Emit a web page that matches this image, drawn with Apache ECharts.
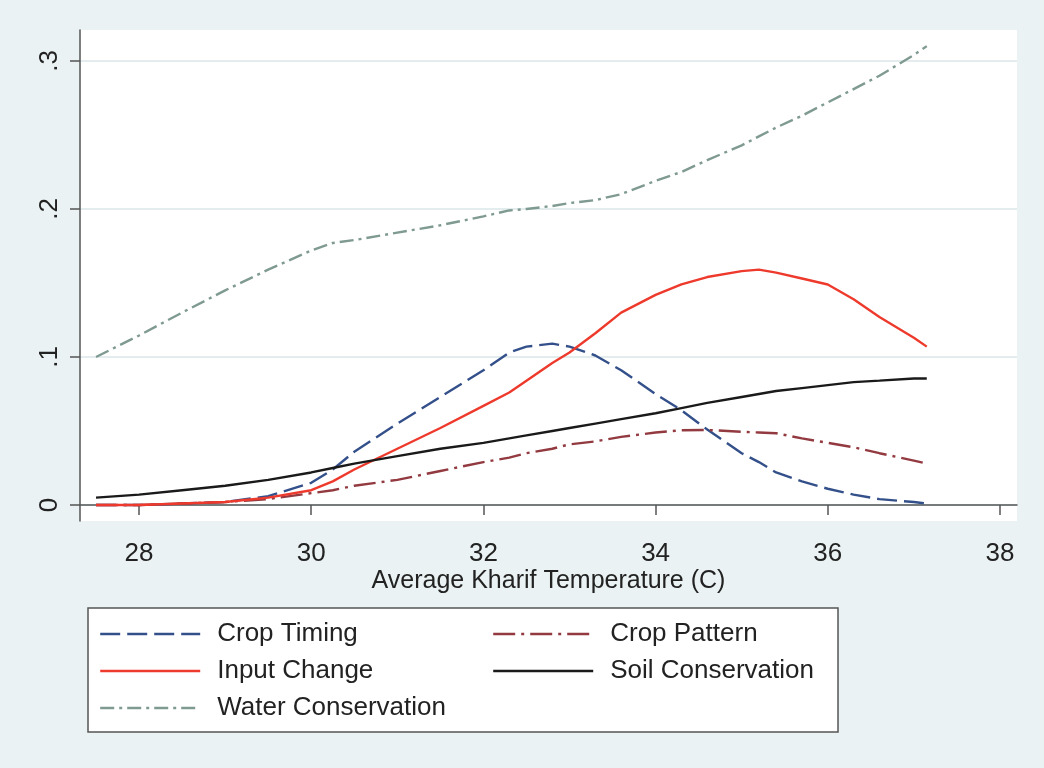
<!DOCTYPE html>
<html>
<head>
<meta charset="utf-8">
<script src="https://cdn.jsdelivr.net/npm/echarts@6/dist/echarts.min.js"></script>
<style>
html,body{margin:0;padding:0;background:#eaf2f3;}
#chart{width:1044px;height:768px;}
</style>
</head>
<body>
<div id="chart"></div>
<script>
// Average Kharif Temperature (C)
var temps = [27.5, 28, 28.5, 29, 29.5, 30, 30.25, 30.5, 31, 31.5, 32, 32.3, 32.5, 32.8, 33, 33.3, 33.6, 34, 34.3, 34.6, 35, 35.2, 35.4, 35.7, 36, 36.3, 36.6, 37, 37.15];
var cropTiming = [0.000, 0.000, 0.001, 0.002, 0.006, 0.015, 0.024, 0.036, 0.055, 0.073, 0.091, 0.103, 0.107, 0.109, 0.107, 0.101, 0.091, 0.075, 0.064, 0.051, 0.035, 0.029, 0.022, 0.016, 0.011, 0.007, 0.004, 0.002, 0.001];
var cropPattern = [0.000, 0.000, 0.001, 0.002, 0.004, 0.008, 0.010, 0.013, 0.017, 0.023, 0.029, 0.032, 0.035, 0.038, 0.041, 0.043, 0.046, 0.049, 0.0505, 0.0507, 0.0495, 0.049, 0.0485, 0.045, 0.042, 0.039, 0.035, 0.030, 0.028];
var inputChange = [0.000, 0.000, 0.001, 0.002, 0.005, 0.010, 0.016, 0.024, 0.038, 0.052, 0.067, 0.076, 0.084, 0.096, 0.103, 0.116, 0.130, 0.142, 0.149, 0.154, 0.158, 0.159, 0.157, 0.153, 0.149, 0.139, 0.127, 0.113, 0.107];
var soilConservation = [0.005, 0.007, 0.010, 0.013, 0.017, 0.022, 0.025, 0.028, 0.033, 0.038, 0.042, 0.045, 0.047, 0.050, 0.052, 0.055, 0.058, 0.062, 0.0655, 0.069, 0.073, 0.075, 0.077, 0.079, 0.081, 0.083, 0.084, 0.0855, 0.0855];
var waterConservation = [0.100, 0.1145, 0.130, 0.145, 0.159, 0.172, 0.177, 0.179, 0.184, 0.189, 0.195, 0.199, 0.200, 0.202, 0.204, 0.206, 0.210, 0.219, 0.225, 0.233, 0.243, 0.249, 0.255, 0.263, 0.272, 0.281, 0.290, 0.304, 0.310];

var xTicks = [28, 30, 32, 34, 36, 38];
var yTicks = [0, 0.1, 0.2, 0.3];
var yTickLabels = ['0', '.1', '.2', '.3'];

function pairs(ys) { return temps.map(function (t, i) { return [t, ys[i]]; }); }

var FONT = '"Liberation Sans", Arial, sans-serif';
var chart = echarts.init(document.getElementById('chart'), null, {renderer: 'canvas'});

function mk(name, data, color, type) {
  return {
    name: name, type: 'line', data: pairs(data), showSymbol: false, symbol: 'none',
    smooth: false, animation: false,
    lineStyle: {color: color, width: 2.4, type: type},
    itemStyle: {color: color},
    emphasis: {disabled: true}
  };
}

var legendCommon = {
  orient: 'vertical', itemWidth: 100, itemHeight: 14, itemGap: 7,
  textStyle: {fontFamily: FONT, fontSize: 26, color: '#222', lineHeight: 30, padding: [0, 0, 0, 12]},
  itemStyle: {opacity: 0},
  lineStyle: {width: 2.4},
  selectedMode: false
};

chart.setOption({
  backgroundColor: '#eaf2f3',
  animation: false,
  graphic: [
    {type: 'rect', z: -1, shape: {x: 80, y: 30, width: 937, height: 491}, style: {fill: '#ffffff'}},
    {type: 'rect', z: 0, shape: {x: 88, y: 608, width: 750, height: 124}, style: {fill: '#ffffff', stroke: '#555555', lineWidth: 1.5}}
  ],
  grid: {left: 80, right: 27, top: 30, bottom: 247, containLabel: false},
  xAxis: {
    type: 'value', min: 27.314, max: 38.198,
    name: 'Average Kharif Temperature (C)', nameLocation: 'middle', nameGap: 48, nameMoveOverlap: false,
    nameTextStyle: {fontFamily: FONT, fontSize: 25, color: '#222'},
    axisLine: {show: true, lineStyle: {color: '#555', width: 1.5}},
    axisTick: {show: true, length: 10, lineStyle: {color: '#555', width: 1.5}, customValues: xTicks},
    axisLabel: {fontFamily: FONT, fontSize: 26, color: '#222', margin: 20, customValues: xTicks},
    splitLine: {show: false}
  },
  yAxis: {
    type: 'value', min: -0.0108, max: 0.3209,
    axisLine: {show: true, lineStyle: {color: '#555', width: 1.5}},
    axisTick: {show: true, length: 10, lineStyle: {color: '#555', width: 1.5}, customValues: yTicks},
    axisLabel: {
      fontFamily: FONT, fontSize: 26, color: '#222', rotate: 90, margin: 17, customValues: yTicks,
      formatter: function (v) {
        for (var i = 0; i < yTicks.length; i++) { if (Math.abs(v - yTicks[i]) < 1e-9) return yTickLabels[i]; }
        return '';
      }
    },
    splitLine: {show: true, lineStyle: {color: '#e3eded', width: 2}}
  },
  legend: [
    Object.assign({}, legendCommon, {left: 94, top: 614, data: ['Crop Timing', 'Input Change', 'Water Conservation']}),
    Object.assign({}, legendCommon, {left: 487, top: 614, data: ['Crop Pattern', 'Soil Conservation']})
  ],
  series: [
    mk('Crop Timing', cropTiming, '#34508a', [20, 7]),
    mk('Crop Pattern', cropPattern, '#923a40', [22, 6, 3, 6]),
    mk('Input Change', inputChange, '#ee3a2c', 'solid'),
    mk('Soil Conservation', soilConservation, '#1a1a1a', 'solid'),
    mk('Water Conservation', waterConservation, '#7f9a90', [14, 5, 3, 5])
  ]
});
</script>
</body>
</html>
